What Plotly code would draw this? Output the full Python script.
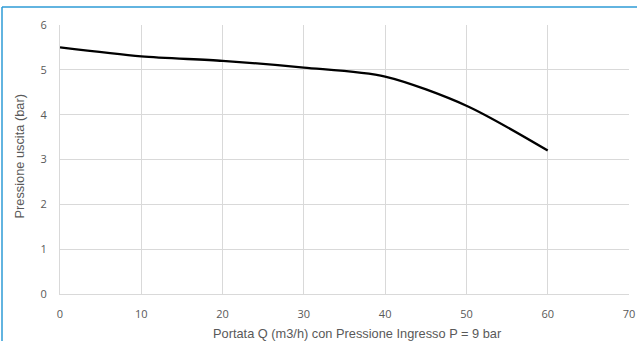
import plotly.graph_objects as go

portata = [0, 10, 20, 30, 40, 50, 60]
pressione = [5.5, 5.3, 5.2, 5.05, 4.85, 4.2, 3.2]
x_ticks = [0, 10, 20, 30, 40, 50, 60, 70]
y_ticks = [0, 1, 2, 3, 4, 5, 6]
x_title = "Portata Q (m3/h) con Pressione Ingresso P = 9 bar"
y_title = "Pressione uscita (bar)"

W, H = 638, 341
ML, MR, MT, MB = 60, 9, 25, 47
pw, ph = W - ML - MR, H - MT - MB

fig = go.Figure()
fig.add_trace(go.Scatter(
    x=portata, y=pressione, mode="lines",
    line=dict(color="black", width=2.3, shape="spline", smoothing=0.8),
    hoverinfo="skip", showlegend=False,
))

tickfont = dict(family="Open Sans, Noto Sans, sans-serif", size=11, color="#595959")
titlefont = dict(family="Liberation Sans, Arial, sans-serif", size=12.8, color="#595959")

fig.update_xaxes(
    range=[0, 70], tickvals=x_ticks, showgrid=True, gridcolor="#d9d9d9", gridwidth=1,
    showline=True, linecolor="#d9d9d9", linewidth=1, zeroline=False,
    tickfont=tickfont, ticks="", ticklabelstandoff=10, automargin=False,
    fixedrange=True,
)
fig.update_yaxes(
    range=[0, 6], tickvals=y_ticks, showgrid=True, gridcolor="#d9d9d9", gridwidth=1,
    showline=True, linecolor="#d9d9d9", linewidth=1, zeroline=False,
    tickfont=tickfont, ticks="", ticklabelstandoff=10, automargin=False,
    fixedrange=True,
)

def px_x(p):
    return (p - ML) / pw

def px_y(p):
    return (H - MB - p) / ph

fig.add_annotation(text=x_title, xref="paper", yref="paper", x=px_x(357), y=px_y(333),
                   xanchor="center", yanchor="middle", showarrow=False, font=titlefont)
fig.add_annotation(text=y_title, xref="paper", yref="paper", x=px_x(19), y=px_y(156.5),
                   xanchor="center", yanchor="middle", showarrow=False, font=titlefont, textangle=-90)

# partial blue frame (top and left)
fig.add_shape(type="line", xref="paper", yref="paper", x0=px_x(2), x1=px_x(637), y0=px_y(7), y1=px_y(7),
              line=dict(color="#2E9BD6", width=1.5))
fig.add_shape(type="line", xref="paper", yref="paper", x0=px_x(2), x1=px_x(2), y0=px_y(7), y1=px_y(345),
              line=dict(color="#2E9BD6", width=1.5))

fig.update_layout(
    width=W, height=H, autosize=False,
    margin=dict(l=ML, r=MR, t=MT, b=MB, pad=0, autoexpand=False),
    paper_bgcolor="white", plot_bgcolor="white",
)

fig.write_html("out.html", config={"displayModeBar": False},
               post_script="document.body.style.margin='0';document.body.style.overflow='hidden';")
